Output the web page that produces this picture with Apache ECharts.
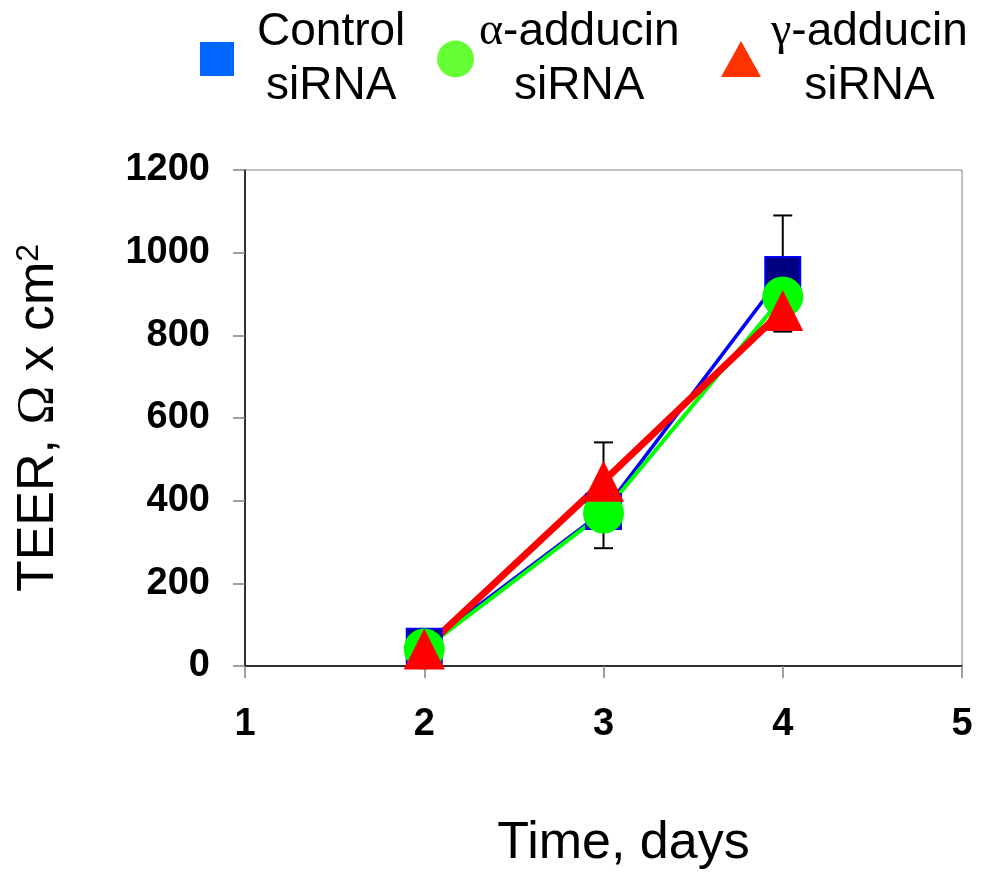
<!DOCTYPE html>
<html>
<head>
<meta charset="utf-8">
<script src="https://cdn.jsdelivr.net/npm/echarts@6/dist/echarts.min.js"></script>
<style>
  html, body { margin: 0; padding: 0; background: #fff; }
  #chart { width: 988px; height: 875px; }
</style>
</head>
<body>
<div id="chart"></div>
<script>
// values
const days = [2, 3, 4]
const controlSiRNA = [48, 374, 947]
const alphaSiRNA = [41, 370, 893]
const gammaSiRNA = [41, 447, 860]
const errDays = [3, 4]
const errLow = [285, 809]
const errHigh = [541, 1090]
const seriesNames = ['Control siRNA', 'α-adducin siRNA', 'γ-adducin siRNA']

const sans = 'Arial, "Liberation Sans", sans-serif'
const serif = '"Times New Roman", "Liberation Serif", serif'
const pair = (xs, ys) => xs.map((x, i) => [x, ys[i]])

const chart = echarts.init(document.getElementById('chart'))

// one legend per entry so each can be placed like the original
function legendFor(name, left, icon, color, w, h, pad) {
  const [first, second] = name.split(' ')
  const greek = /^[αγ]/.test(first)
  const base = { fontFamily: sans, fontSize: 46, lineHeight: 54, color: '#000', align: 'center' }
  return {
    left, top: 9, padding: 0, selectedMode: false,
    itemWidth: w, itemHeight: h,
    data: [{ name, icon, itemStyle: { color, borderWidth: 0 } }],
    formatter: () => greek
      ? `{g|${first[0]}}{c|${first.slice(1)}}\n{a|${second}}`
      : `{a|${first}}\n{a|${second}}`,
    textStyle: {
      rich: {
        a: { ...base, padding: [0, 0, 0, pad] },
        c: { ...base },
        g: { ...base, fontFamily: serif, padding: [0, 0, 0, pad] }
      }
    }
  }
}

const option = {
  animation: false,
  backgroundColor: '#fff',
  grid: {
    left: 245, right: 26, top: 170, bottom: 208,
    show: true, borderColor: '#808080', borderWidth: 1
  },
  legend: [
    legendFor(seriesNames[0], 200, 'rect', '#0066ff', 34, 34, 18),
    legendFor(seriesNames[1], 437, 'circle', '#66ff33', 37, 37, 0),
    legendFor(seriesNames[2], 721, 'triangle', '#ff3300', 40, 36, 5)
  ],
  xAxis: {
    type: 'value', min: 1, max: 5, interval: 1,
    axisLine: { lineStyle: { color: '#000', width: 1.5 } },
    axisTick: { length: 12, lineStyle: { color: '#808080', width: 1.5 } },
    axisLabel: { fontFamily: sans, fontWeight: 'bold', fontSize: 38, color: '#000', margin: 40 },
    splitLine: { show: false },
    name: 'Time, days', nameLocation: 'middle', nameGap: 152,
    nameTextStyle: { fontFamily: sans, fontSize: 52, color: '#000', padding: [0, 0, 0, 40] }
  },
  yAxis: {
    type: 'value', min: 0, max: 1200, interval: 200,
    axisLine: { show: true, lineStyle: { color: '#000', width: 1.5 } },
    axisTick: { show: true, length: 12, lineStyle: { color: '#808080', width: 1.5 } },
    axisLabel: {
      fontFamily: sans, fontWeight: 'bold', fontSize: 38, color: '#000', margin: 35,
      formatter: (v) => String(v)
    },
    splitLine: { show: false },
    name: '{t|TEER, }{o|Ω}{t| x cm}{s|2}',
    nameLocation: 'middle', nameGap: 180, nameRotate: 90,
    nameTextStyle: {
      rich: {
        t: { fontFamily: sans, fontSize: 52, color: '#000' },
        o: { fontFamily: serif, fontSize: 52, color: '#000' },
        s: { fontFamily: sans, fontSize: 32, color: '#000', verticalAlign: 'top' }
      }
    }
  },
  series: [
    {
      name: 'SEM', type: 'custom', z: 1, silent: true,
      data: errDays.map((d, i) => [d, errLow[i], errHigh[i]]),
      encode: { x: 0, y: [1, 2] },
      renderItem: (params, api) => {
        const lo = api.coord([api.value(0), api.value(1)])
        const hi = api.coord([api.value(0), api.value(2)])
        const hw = 9.5
        const style = { stroke: '#000', lineWidth: 2 }
        return {
          type: 'group',
          children: [
            { type: 'line', shape: { x1: lo[0], y1: lo[1], x2: hi[0], y2: hi[1] }, style },
            { type: 'line', shape: { x1: lo[0] - hw, y1: lo[1], x2: lo[0] + hw, y2: lo[1] }, style },
            { type: 'line', shape: { x1: hi[0] - hw, y1: hi[1], x2: hi[0] + hw, y2: hi[1] }, style }
          ]
        }
      }
    },
    {
      name: seriesNames[0], type: 'line', data: pair(days, controlSiRNA),
      symbol: 'rect', symbolSize: 35,
      lineStyle: { color: '#0000ff', width: 3.5 },
      itemStyle: { color: '#000080', borderColor: '#0000ff', borderWidth: 2 }
    },
    {
      name: seriesNames[1], type: 'line', data: pair(days, alphaSiRNA),
      symbol: 'circle', symbolSize: 41,
      lineStyle: { color: '#00ff00', width: 4 },
      itemStyle: { color: '#00ff00', borderWidth: 0 }
    },
    {
      name: seriesNames[2], type: 'line', data: pair(days, gammaSiRNA),
      symbol: 'triangle', symbolSize: [41, 41],
      lineStyle: { color: '#ff0000', width: 7 },
      itemStyle: { color: '#ff0000', borderWidth: 0 }
    }
  ]
}

chart.setOption(option)
</script>
</body>
</html>
